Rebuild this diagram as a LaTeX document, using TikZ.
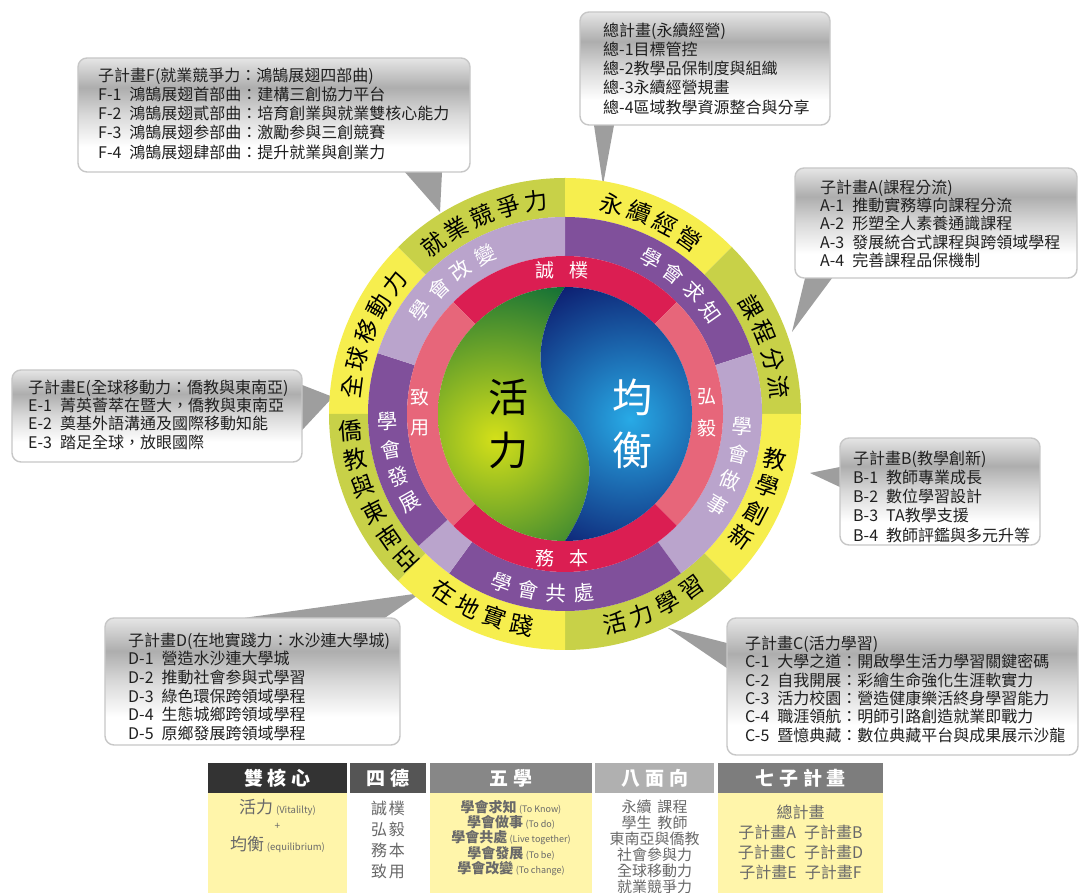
\documentclass[tikz,border=0pt]{standalone}
\usepackage{fontspec}
\setmainfont{Noto Sans CJK TC}
\usetikzlibrary{calc}
\definecolor{ringolive}{RGB}{200,209,72}
\definecolor{ringyellow}{RGB}{246,238,78}
\definecolor{pdark}{RGB}{128,80,155}
\definecolor{plight}{RGB}{186,164,204}
\definecolor{rcrim}{RGB}{219,30,82}
\definecolor{rpink}{RGB}{231,102,122}
\definecolor{tyellow}{RGB}{255,245,170}
\definecolor{hdA}{RGB}{51,51,51}
\definecolor{hdB}{RGB}{85,85,85}
\definecolor{hdC}{RGB}{135,135,135}
\definecolor{hdD}{RGB}{176,176,176}
\definecolor{hdE}{RGB}{125,125,125}
\definecolor{tgray}{RGB}{105,105,105}
\definecolor{gcore}{RGB}{212,224,25}
\definecolor{gdark}{RGB}{15,110,55}
\definecolor{bcore}{RGB}{40,170,230}
\definecolor{bdark}{RGB}{10,15,100}
\pgfdeclareverticalshading{calloutshade}{100bp}{color(0bp)=(white); color(25bp)=(white); color(36bp)=(white); color(50bp)=(black!15); color(62bp)=(black!32); color(75bp)=(black!10); color(100bp)=(black!10)}
\newcommand{\gapx}{\hspace{5bp}}
\newcommand{\ringsector}[5]{\fill[#1] ($(C)+(#2:#4)$) arc[start angle=#2, end angle=#3, radius=#4] -- ($(C)+(#3:#5)$) arc[start angle=#3, end angle=#2, radius=#5] -- cycle;}
\newcommand{\ringtext}[8]{%
  \foreach \ch [count=\i] in {#8} {%
    \pgfmathsetmacro{\rtang}{#3+(\i-(#6+1)/2)*(#4)}%
    \pgfmathsetmacro{\rtrot}{\rtang+(#5)}%
    \node[#7, rotate=\rtrot] (#1\i) at ($(C)+(\rtang:#2)$) {\ch};
  }%
}
\begin{document}
\begin{tikzpicture}[x=1bp,y=1bp,
  callout/.style={rounded corners=9bp, draw=black!22, line width=1.4bp, shade, shading=calloutshade, inner sep=0pt},
  ctext/.style={anchor=north west, align=left, inner sep=0pt, text=black!88},
  wedge/.style={fill=black!38},
  outtxt/.style={inner sep=0pt, text=black, font=\fontsize{23.5bp}{23.5bp}\selectfont},
  ptxt/.style={inner sep=0pt, text=white, font=\fontsize{20.5bp}{20.5bp}\selectfont},
  rtxt/.style={inner sep=0pt, text=white, font=\fontsize{19bp}{19bp}\selectfont},
  coretxt/.style={inner sep=0pt, font=\fontsize{40bp}{40bp}\selectfont},
  hdr/.style={inner sep=0pt, text=white, minimum height=30bp, font=\bfseries\fontsize{19bp}{19bp}\selectfont},
  bodycell/.style={inner sep=0pt, minimum height=100bp},
  ttext/.style={inner sep=0pt, text=tgray, align=center}
]
\useasboundingbox (0,0) rectangle (1081,893);
\fill[white] (0,0) rectangle (1081,893);
\coordinate (C) at (565,479);

% ---------- callout boxes (placeholders first to anchor wedges)
\coordinate (tipF) at (440,681);
\coordinate (tipT) at (603,708);
\coordinate (tipA) at (792,561);
\coordinate (tipE) at (333,496);
\coordinate (tipB) at (810,420);
\coordinate (tipD) at (421,300);
\coordinate (tipC) at (668,265);

\path (274,778) node[minimum width=392bp, minimum height=114bp, inner sep=0pt] (phF) {};
\path (705,824.5) node[minimum width=250bp, minimum height=113bp, inner sep=0pt] (phT) {};
\path (936,670) node[minimum width=282bp, minimum height=110bp, inner sep=0pt] (phA) {};
\path (157,477) node[minimum width=290bp, minimum height=92bp, inner sep=0pt] (phE) {};
\path (940,401.5) node[minimum width=200bp, minimum height=107bp, inner sep=0pt] (phB) {};
\path (252.5,211.5) node[minimum width=295bp, minimum height=127bp, inner sep=0pt] (phD) {};
\path (902.5,206.5) node[minimum width=351bp, minimum height=137bp, inner sep=0pt] (phC) {};

\fill[wedge] ([xshift=131bp]phF.south) -- (tipF) -- ([xshift=168bp]phF.south) -- cycle;
\fill[wedge] ([xshift=-111bp]phT.south) -- (tipT) -- ([xshift=-91bp]phT.south) -- cycle;
\fill[wedge] ([xshift=-131bp]phA.south) -- (tipA) -- ([xshift=-104bp]phA.south) -- cycle;
\fill[wedge] ([yshift=31bp]phE.east) -- (tipE) -- ([yshift=-14bp]phE.east) -- cycle;
\fill[wedge] ([yshift=24.5bp]phB.west) -- (tipB) -- ([yshift=4.5bp]phB.west) -- cycle;
\fill[wedge] ([xshift=-7.5bp]phD.north) -- (tipD) -- ([xshift=132.5bp]phD.north) -- cycle;
\fill[wedge] ([yshift=43.5bp]phC.west) -- (tipC) -- ([yshift=18.5bp]phC.west) -- cycle;

\node[callout, minimum width=392bp, minimum height=114bp] (boxF) at (phF) {};
\node[callout, minimum width=250bp, minimum height=113bp] (boxT) at (phT) {};
\node[callout, minimum width=282bp, minimum height=110bp] (boxA) at (phA) {};
\node[callout, minimum width=290bp, minimum height=92bp] (boxE) at (phE) {};
\node[callout, minimum width=200bp, minimum height=107bp] (boxB) at (phB) {};
\node[callout, minimum width=295bp, minimum height=127bp] (boxD) at (phD) {};
\node[callout, minimum width=351bp, minimum height=137bp] (boxC) at (phC) {};

\node[ctext, font=\fontsize{16bp}{19.25bp}\selectfont] (txtF) at (98,825.5) {子計畫F(就業競爭力：鴻鵠展翅四部曲)\\F-1\hspace{8bp}鴻鵠展翅首部曲：建構三創協力平台\\F-2\hspace{8bp}鴻鵠展翅貳部曲：培育創業與就業雙核心能力\\F-3\hspace{8bp}鴻鵠展翅参部曲：激勵参與三創競賽\\F-4\hspace{8bp}鴻鵠展翅肆部曲：提升就業與創業力};
\node[ctext, font=\fontsize{16bp}{19.25bp}\selectfont] (txtT) at (603,870.5) {總計畫(永續經營)\\總-1目標管控\\總-2教學品保制度與組織\\總-3永續經營規畫\\總-4區域教學資源整合與分享};
\node[ctext, font=\fontsize{16bp}{18.4bp}\selectfont] (txtA) at (820,713.5) {子計畫A(課程分流)\\A-1\hspace{8bp}推動實務導向課程分流\\A-2\hspace{8bp}形塑全人素養通識課程\\A-3\hspace{8bp}發展統合式課程與跨領域學程\\A-4\hspace{8bp}完善課程品保機制};
\node[ctext, font=\fontsize{16bp}{18.4bp}\selectfont] (txtE) at (28,513.5) {子計畫E(全球移動力：僑教與東南亞)\\E-1\hspace{8bp}菁英薈萃在暨大，僑教與東南亞\\E-2\hspace{8bp}奠基外語溝通及國際移動知能\\E-3\hspace{8bp}踏足全球，放眼國際};
\node[ctext, font=\fontsize{16bp}{19.2bp}\selectfont] (txtB) at (853,442.5) {子計畫B(教學創新)\\B-1\hspace{8bp}教師專業成長\\B-2\hspace{8bp}數位學習設計\\B-3\hspace{8bp}TA教學支援\\B-4\hspace{8bp}教師評鑑與多元升等};
\node[ctext, font=\fontsize{16bp}{18.6bp}\selectfont] (txtD) at (128,260.5) {子計畫D(在地實踐力：水沙連大學城)\\D-1\hspace{8bp}營造水沙連大學城\\D-2\hspace{8bp}推動社會参與式學習\\D-3\hspace{8bp}綠色環保跨領域學程\\D-4\hspace{8bp}生態城鄉跨領域學程\\D-5\hspace{8bp}原鄉發展跨領域學程};
\node[ctext, font=\fontsize{16bp}{18.4bp}\selectfont] (txtC) at (745,257.5) {子計畫C(活力學習)\\C-1\hspace{8bp}大學之道：開啟學生活力學習關鍵密碼\\C-2\hspace{8bp}自我開展：彩繪生命強化生涯軟實力\\C-3\hspace{8bp}活力校園：營造健康樂活終身學習能力\\C-4\hspace{8bp}職涯領航：明師引路創造就業即戰力\\C-5\hspace{8bp}暨憶典藏：數位典藏平台與成果展示沙龍};

% ---------- rings
\ringsector{ringyellow}{135}{180}{236}{197}
\ringsector{ringolive}{90}{135}{236}{197}
\ringsector{ringyellow}{45}{90}{236}{197}
\ringsector{ringolive}{0}{45}{236}{197}
\ringsector{ringyellow}{-45}{0}{236}{197}
\ringsector{ringolive}{-90}{-45}{236}{197}
\ringsector{ringyellow}{-135}{-90}{236}{197}
\ringsector{ringolive}{-180}{-135}{236}{197}
\ringsector{pdark}{18}{90}{197}{158}
\ringsector{plight}{-54}{18}{197}{158}
\ringsector{pdark}{-126}{-54}{197}{158}
\ringsector{plight}{-138}{-126}{197}{158}
\ringsector{pdark}{162}{222}{197}{158}
\ringsector{plight}{90}{162}{197}{158}
\ringsector{rcrim}{45}{135}{158}{127}
\ringsector{rpink}{-45}{45}{158}{127}
\ringsector{rcrim}{-135}{-45}{158}{127}
\ringsector{rpink}{135}{225}{158}{127}

% yin-yang core
\begin{scope}[shift={(C)}]
  \begin{scope}
    \clip (0,127) arc[start angle=90, end angle=270, radius=127] .. controls (35,-75) and (30,-28) .. (0,0) .. controls (-30,28) and (-35,75) .. (0,127) -- cycle;
    \shade[inner color=gcore, outer color=gdark] (-70,-25) circle (170);
  \end{scope}
  \begin{scope}
    \clip (0,127) arc[start angle=90, end angle=-90, radius=127] .. controls (35,-75) and (30,-28) .. (0,0) .. controls (-30,28) and (-35,75) .. (0,127) -- cycle;
    \shade[inner color=bcore, outer color=bdark] (65,-5) circle (165);
  \end{scope}
\end{scope}

% ring texts
\ringtext{oa}{215}{157.5}{-7.6}{-90}{5}{outtxt}{全,球,移,動,力}
\ringtext{ob}{215}{112.8}{-7.5}{-90}{5}{outtxt}{就,業,競,爭,力}
\ringtext{oc}{215}{66}{-7.6}{-90}{4}{outtxt}{永,續,經,營}
\ringtext{od}{215}{18.5}{-7.6}{-90}{4}{outtxt}{課,程,分,流}
\ringtext{oe}{215}{-23.5}{-7.6}{0}{4}{outtxt}{教,學,創,新}
\ringtext{of}{215}{-65.3}{7.6}{90}{4}{outtxt}{活,力,學,習}
\ringtext{og}{215}{-112.9}{7.6}{90}{4}{outtxt}{在,地,實,踐}
\ringtext{oh}{215}{203.5}{7.6}{-180}{6}{outtxt}{僑,教,與,東,南,亞}

\ringtext{pa}{178}{48}{-8.7}{-90}{4}{ptxt}{學,會,求,知}
\ringtext{pb}{178}{-17.4}{-9}{0}{4}{ptxt}{學,會,做,事}
\ringtext{pc}{180}{-97.3}{8.8}{90}{4}{ptxt}{學,會,共,處}
\ringtext{pd}{178}{196}{9}{-180}{4}{ptxt}{學,會,發,展}
\ringtext{pe}{178}{130.6}{-9.2}{-90}{4}{ptxt}{學,會,改,變}

\node[rtxt] (rv1) at ($(C)+(-20,144)$) {誠};
\node[rtxt] (rv2) at ($(C)+(14,144)$) {樸};
\node[rtxt] (rv3) at ($(C)+(142,17)$) {弘};
\node[rtxt] (rv4) at ($(C)+(142,-14)$) {毅};
\node[rtxt] (rv5) at ($(C)+(-20,-144)$) {務};
\node[rtxt] (rv6) at ($(C)+(14,-144)$) {本};
\node[rtxt] (rv7) at ($(C)+(-145,17)$) {致};
\node[rtxt] (rv8) at ($(C)+(-145,-14)$) {用};

\node[coretxt, text=black] (cv1) at ($(C)+(-57,17)$) {活};
\node[coretxt, text=black] (cv2) at ($(C)+(-57,-36)$) {力};
\node[coretxt, text=white] (cv3) at ($(C)+(67,17)$) {均};
\node[coretxt, text=white] (cv4) at ($(C)+(67,-36)$) {衡};

% ---------- table
\node[bodycell, fill=tyellow, minimum width=139bp] (b1) at (277.5,50) {};
\node[bodycell, fill=white, minimum width=76bp] (b2) at (388,50) {};
\node[bodycell, fill=tyellow, minimum width=162bp] (b3) at (511,50) {};
\node[bodycell, fill=white, minimum width=119bp] (b4) at (654.5,50) {};
\node[bodycell, fill=tyellow, minimum width=165bp] (b5) at (800.5,50) {};

\node[hdr, fill=hdA, minimum width=139bp] (h1) at (277.5,115) {雙\gapx 核\gapx 心};
\node[hdr, fill=hdB, minimum width=76bp] (h2) at (388,115) {四\gapx 德};
\node[hdr, fill=hdC, minimum width=162bp] (h3) at (511,115) {五\gapx 學};
\node[hdr, fill=hdD, minimum width=119bp] (h4) at (654.5,115) {八\gapx 面\gapx 向};
\node[hdr, fill=hdE, minimum width=165bp] (h5) at (800.5,115) {七\gapx 子\gapx 計\gapx 畫};

\node[ttext] (t1a) at (277.5,86) {\fontsize{17bp}{17bp}\selectfont 活力\,{\fontsize{9.5bp}{10bp}\selectfont(Vitalilty)}};
\node[ttext] (t1b) at (277.5,67) {\fontsize{10bp}{10bp}\selectfont +};
\node[ttext] (t1c) at (277.5,49) {\fontsize{17bp}{17bp}\selectfont 均衡\,{\fontsize{9.5bp}{10bp}\selectfont(equilibrium)}};

\node[ttext, font=\fontsize{16bp}{16bp}\selectfont] (t2a) at (388,85) {誠\hspace{2bp}樸};
\node[ttext, font=\fontsize{16bp}{16bp}\selectfont] (t2b) at (388,64) {弘\hspace{2bp}毅};
\node[ttext, font=\fontsize{16bp}{16bp}\selectfont] (t2c) at (388,43) {務\hspace{2bp}本};
\node[ttext, font=\fontsize{16bp}{16bp}\selectfont] (t2d) at (388,22) {致\hspace{2bp}用};

\node[ttext, font=\bfseries\fontsize{14bp}{14bp}\selectfont] (t3a) at (511,86) {學會求知\,{\mdseries\fontsize{9bp}{9bp}\selectfont(To Know)}};
\node[ttext, font=\bfseries\fontsize{14bp}{14bp}\selectfont] (t3b) at (511,70.5) {學會做事\,{\mdseries\fontsize{9bp}{9bp}\selectfont(To do)}};
\node[ttext, font=\bfseries\fontsize{14bp}{14bp}\selectfont] (t3c) at (511,55) {學會共處\,{\mdseries\fontsize{9bp}{9bp}\selectfont(Live together)}};
\node[ttext, font=\bfseries\fontsize{14bp}{14bp}\selectfont] (t3d) at (511,39.5) {學會發展\,{\mdseries\fontsize{9bp}{9bp}\selectfont(To be)}};
\node[ttext, font=\bfseries\fontsize{14bp}{14bp}\selectfont] (t3e) at (511,24) {學會改變\,{\mdseries\fontsize{9bp}{9bp}\selectfont(To change)}};

\node[ttext, font=\fontsize{15bp}{15bp}\selectfont] (t4a) at (654.5,86) {永續\hspace{6bp}課程};
\node[ttext, font=\fontsize{15bp}{15bp}\selectfont] (t4b) at (654.5,70) {學生\hspace{6bp}教師};
\node[ttext, font=\fontsize{15bp}{15bp}\selectfont] (t4c) at (654.5,54) {東南亞與僑教};
\node[ttext, font=\fontsize{15bp}{15bp}\selectfont] (t4d) at (654.5,38) {社會參與力};
\node[ttext, font=\fontsize{15bp}{15bp}\selectfont] (t4e) at (654.5,22) {全球移動力};
\node[ttext, font=\fontsize{15bp}{15bp}\selectfont] (t4f) at (654.5,6) {就業競爭力};

\node[ttext, font=\fontsize{16bp}{16bp}\selectfont] (t5a) at (800.5,81) {總計畫};
\node[ttext, font=\fontsize{16bp}{16bp}\selectfont] (t5b) at (800.5,61) {子計畫A\hspace{8bp}子計畫B};
\node[ttext, font=\fontsize{16bp}{16bp}\selectfont] (t5c) at (800.5,41) {子計畫C\hspace{8bp}子計畫D};
\node[ttext, font=\fontsize{16bp}{16bp}\selectfont] (t5d) at (800.5,21) {子計畫E\hspace{8bp}子計畫F};
\end{tikzpicture}
\end{document}
